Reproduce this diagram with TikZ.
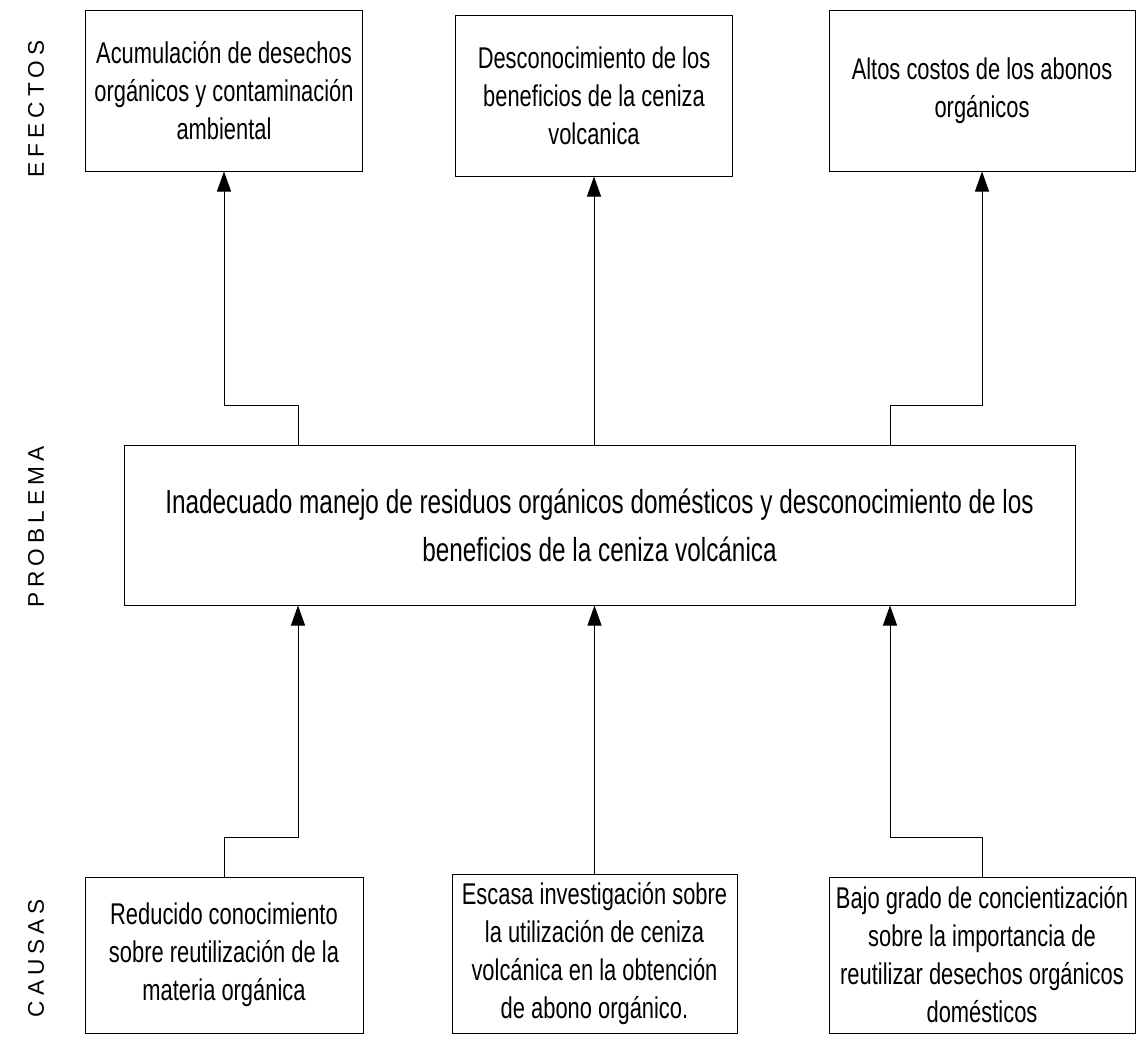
\documentclass[tikz,border=0pt]{standalone}
\usepackage{fontspec}
\setmainfont{Liberation Sans}[FakeStretch=0.73]
\newfontfamily\sidefont{Liberation Sans}[LetterSpace=22]
\usetikzlibrary{arrows.meta,positioning}

\begin{document}
\begin{tikzpicture}[x=0.75pt,y=-0.75pt,
	caja/.style = {draw, line width=0.75pt, align=center, inner sep=0pt,
		font=\fontsize{22.5}{28.5}\selectfont},
	efecto/.style = {caja, minimum width=207.75pt, minimum height=120.75pt},
	causa/.style = {caja, minimum width=208.5pt, minimum height=117pt},
	problema/.style = {caja, minimum width=713.25pt, minimum height=120pt,
		font=\fontsize{25}{36}\selectfont},
	lado/.style = {rotate=90, font=\sidefont\fontsize{17}{20}\selectfont},
	flecha/.style = {line width=0.75pt, -{Triangle[width=10.5pt,length=15pt]}}]
	\useasboundingbox (0,0) rectangle (1137,1036);
	% efectos
	\node (e1) [efecto] at (224,90.5) {Acumulación de desechos\\orgánicos y contaminación\\ambiental};
	\node (e2) [efecto] at (594,95.5) {Desconocimiento de los\\beneficios de la ceniza\\volcanica};
	\node (e3) [efecto, minimum width=229.5pt] at (982,90.5) {Altos costos de los abonos\\orgánicos};
	% problema
	\node (p) [problema] at (599.5,525) {Inadecuado manejo de residuos orgánicos domésticos y desconocimiento de los\\beneficios de la ceniza volcánica};
	% causas
	\node (c1) [causa] at (224,955) {Reducido conocimiento\\sobre reutilización de la\\materia orgánica};
	\node (c2) [causa, minimum width=213.75pt, minimum height=119.25pt] at (594.5,953.5) {Escasa investigación sobre\\la utilización de ceniza\\volcánica en la obtención\\de abono orgánico.};
	\node (c3) [causa, minimum width=229.5pt] at (982,955) {Bajo grado de concientización\\sobre la importancia de\\reutilizar desechos orgánicos\\domésticos};
	% etiquetas
	\node (le) [lado] at (36,109) {EFECTOS};
	\node (lp) [lado] at (36,527) {PROBLEMA};
	\node (lc) [lado] at (36,958) {CAUSAS};
	% puntos de quiebre
	\coordinate (j1) at (298,405);
	\coordinate (j3) at (890,405);
	\coordinate (k1) at (298,837);
	\coordinate (k3) at (982,837);
	% conectores
	\draw[flecha] (p.north -| j1) -- (j1) -| (e1.south);
	\draw[flecha] (p.north -| e2) -- (e2.south);
	\draw[flecha] (p.north -| j3) -- (j3) -| (e3.south);
	\draw[flecha] (c1.north) |- (k1) -- (p.south -| k1);
	\draw[flecha] (c2.north) -- (p.south -| c2);
	\draw[flecha] (c3.north) |- (k3) -| (p.south -| j3);
\end{tikzpicture}
\end{document}
